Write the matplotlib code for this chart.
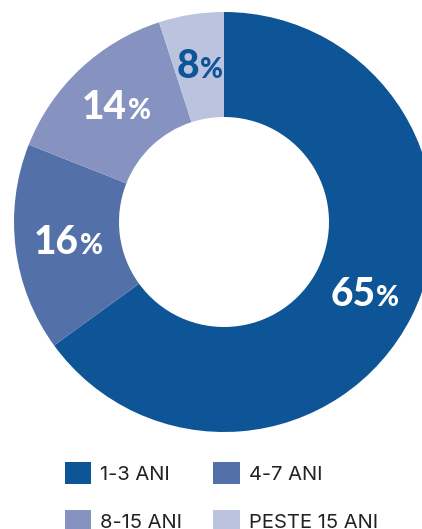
import matplotlib
matplotlib.use("Agg")
import numpy as np
import matplotlib.pyplot as plt
from matplotlib.patches import Patch

# data
categories = ["1-3 ANI", "4-7 ANI", "8-15 ANI", "PESTE 15 ANI"]
shares = [65, 16, 14, 5]          # wedge sizes as drawn
pct_labels = ["65", "16", "14", "8"]  # printed values
colors = ["#0D5596", "#5470A9", "#8693C1", "#BCC3DF"]
label_colors = ["white", "white", "white", "#0D5596"]

fig = plt.figure(figsize=(4.22, 5.29), dpi=100)
W, H = 422, 529

# donut axes: outer ring spans 14..434 px horizontally, 12..432 px vertically
ax = fig.add_axes([14 / W, 1 - 432 / H, 420 / W, 420 / H])
wedges, _ = ax.pie(shares, colors=colors, startangle=90, counterclock=False,
                   radius=1, wedgeprops=dict(width=0.5, edgecolor="none"))
ax.set_xlim(-1, 1)
ax.set_ylim(-1, 1)
ax.set_aspect("equal")
ax.axis("off")

renderer = fig.canvas.get_renderer()
for w, num, col in zip(wedges, pct_labels, label_colors):
    mid = np.deg2rad((w.theta1 + w.theta2) / 2)
    x, y = 0.75 * np.cos(mid), 0.75 * np.sin(mid)
    t1 = ax.text(x, y, num, ha="left", va="baseline", color=col,
                 fontsize=28, fontweight="black", family="Lato")
    t2 = ax.text(x, y, "%", ha="left", va="baseline", color=col,
                 fontsize=20, fontweight="black", family="Lato")
    b1 = t1.get_window_extent(renderer)
    b2 = t2.get_window_extent(renderer)
    total = b1.width + b2.width
    px, py = ax.transData.transform((x, y))
    left = px - total / 2
    base = py - 12  # baseline so digits sit centred on the ring
    inv = ax.transData.inverted()
    t1.set_position(inv.transform((left, base)))
    t2.set_position(inv.transform((left + b1.width + 1, base)))

# legend fills column by column, so reorder to get rows 1-3/4-7 and 8-15/PESTE
order = [0, 2, 1, 3]
handles = [Patch(facecolor=colors[i], edgecolor="none") for i in order]
fig.legend(handles, [categories[i] for i in order], ncol=2, loc="upper left",
           bbox_to_anchor=(65 / W, 1 - 462 / H), frameon=False,
           prop=dict(family="Inter", size=14.5),
           handlelength=1.3, handleheight=1.3, handletextpad=0.45,
           columnspacing=1.55, labelspacing=1.3, borderpad=0, borderaxespad=0,
           labelcolor="#222222")

fig.savefig("out.png", dpi=100)
